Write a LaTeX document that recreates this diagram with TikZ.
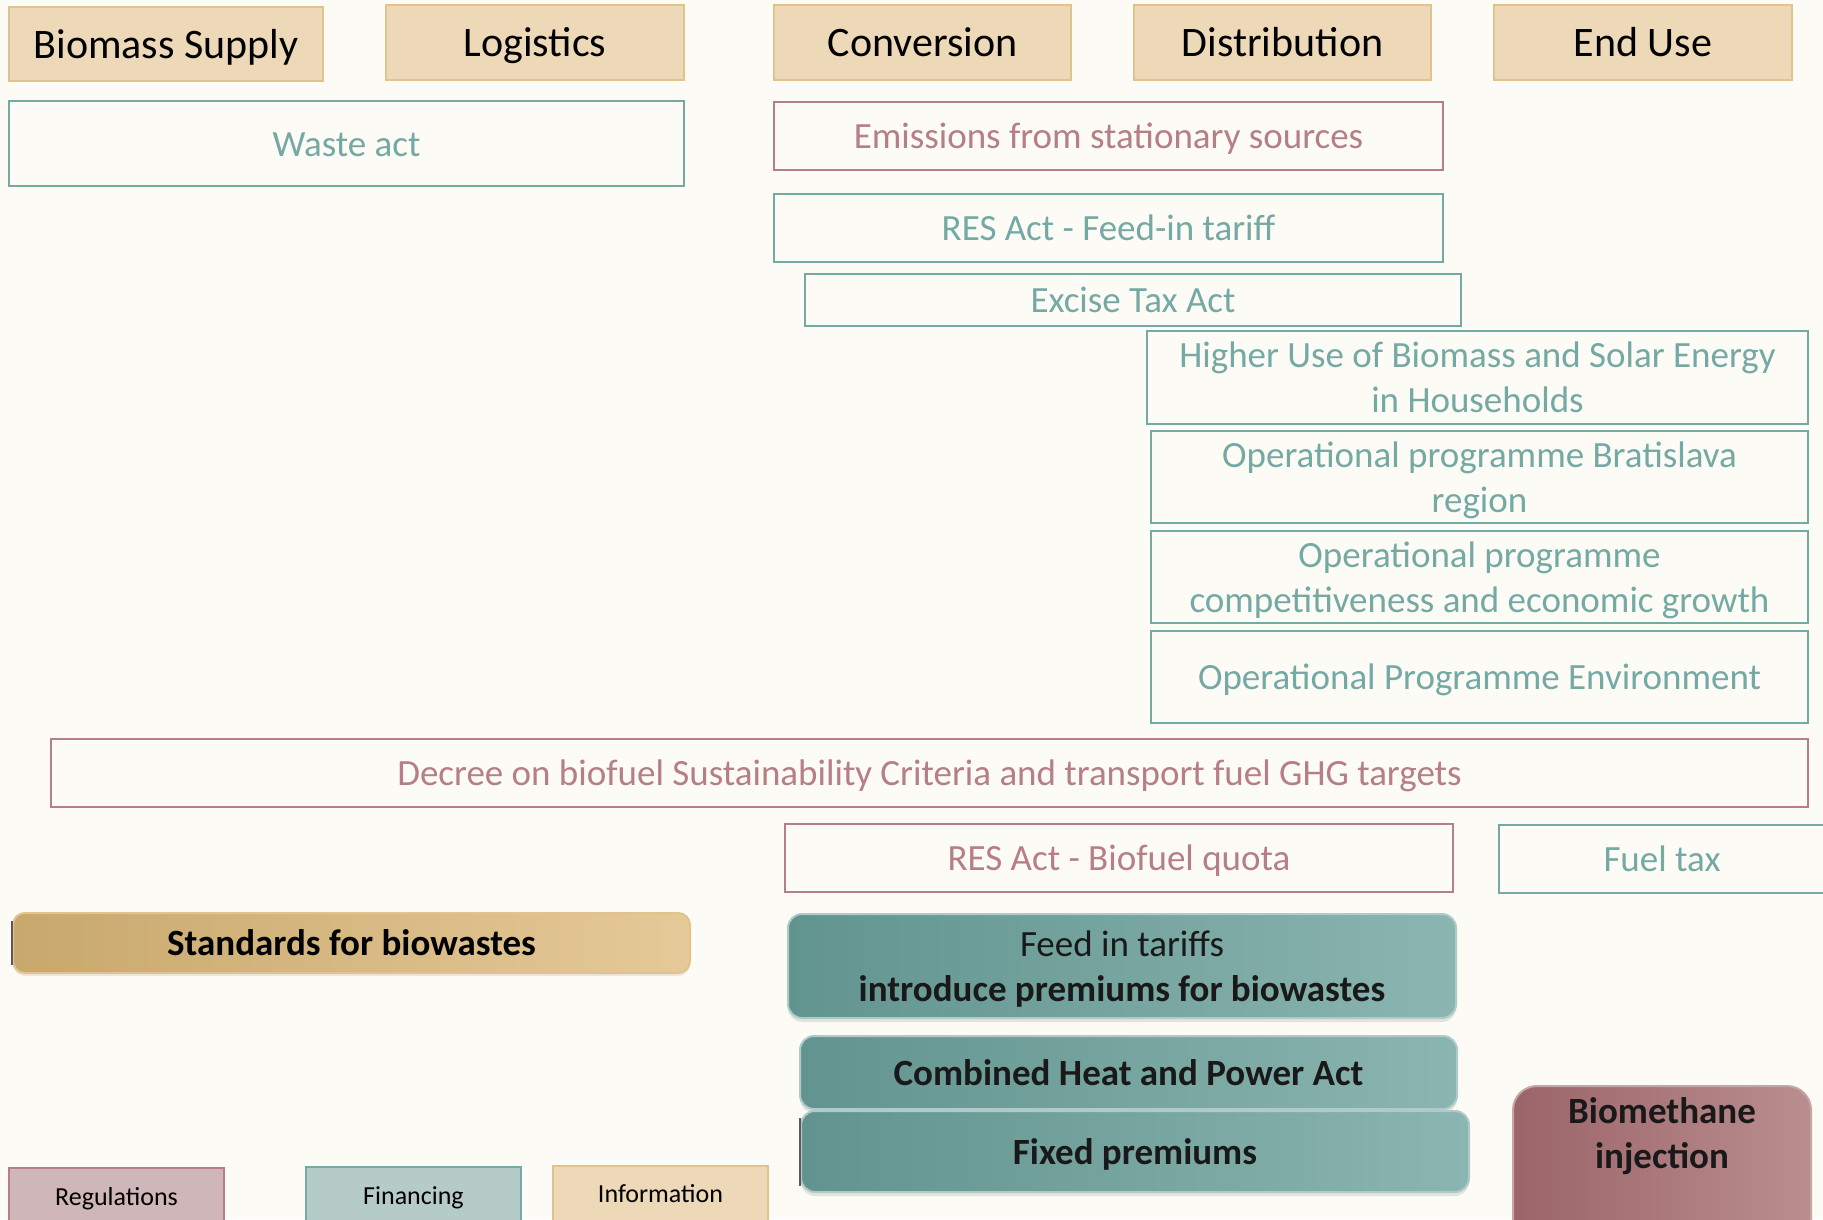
\documentclass[tikz,border=0pt]{standalone}
\usepackage{fontspec}
\setmainfont{Carlito}
\usetikzlibrary{shadows}
\definecolor{bgc}{HTML}{FDFBF5}
\definecolor{hdrfill}{HTML}{EDD8B8}
\definecolor{hdrline}{HTML}{E2C38C}
\definecolor{tealc}{HTML}{74A9A4}
\definecolor{rosec}{HTML}{B67E85}
\definecolor{regfill}{HTML}{CFB6B8}
\definecolor{finfill}{HTML}{B5CBC7}
\definecolor{goldL}{HTML}{C8A86C}
\definecolor{goldR}{HTML}{E5C998}
\definecolor{tealL}{HTML}{62948F}
\definecolor{tealR}{HTML}{8BB5B0}
\definecolor{roseL}{HTML}{9B6469}
\definecolor{roseR}{HTML}{BA8E8E}
\newcommand\hdrfont{\fontsize{21}{25.7}\selectfont}
\newcommand\bodyfont{\fontsize{18.5}{22.6}\selectfont}
\newcommand\legfont{\fontsize{13}{16}\selectfont}
% PowerPoint-like line box: ascent 0.952em, descent 0.269em
\newcommand\ppstrut{\vrule width 0pt height 0.952em depth 0.269em\relax}
\newcommand\mybox[7]{%
  \pgfmathsetmacro\myw{(#4-#2)*0.5}%
  \pgfmathsetmacro\myh{(#5-#3)*0.5}%
  \node[#6, minimum width=\myw pt, minimum height=\myh pt] (#1) at ({(#2+#4)/2},{(#3+#5)/2}) {\ppstrut#7};%
}
\tikzset{
  base/.style={rectangle, inner sep=0pt, align=center, line width=1pt},
  hdrbox/.style={base, draw=hdrline, fill=hdrfill, font=\hdrfont, text=black},
  tealbox/.style={base, draw=tealc, fill=bgc, font=\bodyfont, text=tealc},
  rosebox/.style={base, draw=rosec, fill=bgc, font=\bodyfont, text=rosec},
  goldbar/.style={base, rounded corners=6pt, draw=hdrline, left color=goldL, right color=goldR, font=\bodyfont\bfseries, text=black, drop shadow={shadow xshift=0pt, shadow yshift=-1.5pt, opacity=0.15}},
  tealbar/.style={base, rounded corners=7pt, draw=tealR!70!white, left color=tealL, right color=tealR, font=\bodyfont, text=black!90, drop shadow={shadow xshift=0pt, shadow yshift=-2pt, opacity=0.2}},
  rosebar/.style={base, rounded corners=12pt, draw=roseR!80!white, left color=roseL, right color=roseR, drop shadow={shadow xshift=0pt, shadow yshift=-2pt, opacity=0.2}},
  plaintext/.style={inner sep=0pt, align=center, font=\bodyfont\bfseries, text=black!90},
  legreg/.style={base, draw=rosec, fill=regfill, font=\legfont, text=black},
  legfin/.style={base, draw=tealc, fill=finfill, font=\legfont, text=black},
  leginf/.style={base, draw=hdrline, fill=hdrfill, font=\legfont, text=black},
  edgeline/.style={line width=0.6pt, draw=black!65},
}
\begin{document}
\begin{tikzpicture}[x=0.5pt, y=-0.5pt]
\fill[bgc] (0,0) rectangle (1823,1219);
\useasboundingbox (0,0) rectangle (1823,1219);
\clip (0,0) rectangle (1823,1219);
% headers
\mybox{hbio}{9}{7}{323}{81}{hdrbox}{Biomass Supply}
\mybox{hlog}{386}{5}{684}{80}{hdrbox}{Logistics}
\mybox{hconv}{774}{5}{1071}{80}{hdrbox}{Conversion}
\mybox{hdist}{1134}{5}{1431}{80}{hdrbox}{Distribution}
\mybox{hend}{1494}{5}{1792}{80}{hdrbox}{End Use}
% outlined boxes
\mybox{waste}{9}{101}{684}{186}{tealbox}{Waste act}
\mybox{emis}{774}{102}{1443}{170}{rosebox}{Emissions from stationary sources}
\mybox{resfit}{774}{194}{1443}{262}{tealbox}{RES Act - Feed-in tariff}
\mybox{excise}{805}{274}{1461}{326}{tealbox}{Excise Tax Act}
\mybox{higher}{1147}{331}{1808}{424}{tealbox}{Higher Use of Biomass and Solar Energy\\\ppstrut in Households}
\mybox{opbrat}{1151}{431}{1808}{523}{tealbox}{Operational programme Bratislava\\\ppstrut region}
\mybox{opcomp}{1151}{531}{1808}{623}{tealbox}{Operational programme\\\ppstrut competitiveness and economic growth}
\mybox{openv}{1151}{631}{1808}{723}{tealbox}{Operational Programme Environment}
\mybox{decree}{51}{739}{1808}{807}{rosebox}{Decree on biofuel Sustainability Criteria and transport fuel GHG targets}
\mybox{resbio}{785}{824}{1453}{892}{rosebox}{RES Act - Biofuel quota}
\mybox{fueltax}{1499}{825}{1825}{893}{tealbox}{Fuel tax}
% filled bars
\mybox{stand}{13}{913}{690}{973}{goldbar}{Standards for biowastes}
\mybox{feedin}{788}{914}{1456}{1018}{tealbar}{Feed in tariffs\\\ppstrut\textbf{introduce premiums for biowastes}}
\mybox{chp}{800}{1036}{1457}{1109}{tealbar}{\textbf{Combined Heat and Power Act}}
\mybox{fixed}{801}{1111}{1469}{1192}{tealbar}{\textbf{Fixed premiums}}
\mybox{biom}{1513}{1086}{1811}{1260}{rosebar}{}
\node[plaintext] (biomtext) at (1662,1133) {\ppstrut Biomethane\\\ppstrut injection};
% thin dark left edges
\draw[edgeline] ([yshift=-11pt]stand.west) -- ([yshift=11pt]stand.west);
\draw[edgeline] ([yshift=-17pt]fixed.west) -- ([yshift=17pt]fixed.west);
% legend
\mybox{lreg}{9}{1168}{224}{1225}{legreg}{Regulations}
\mybox{lfin}{306}{1167}{521}{1225}{legfin}{Financing}
\mybox{linf}{553}{1166}{768}{1222}{leginf}{Information}
\end{tikzpicture}
\end{document}
